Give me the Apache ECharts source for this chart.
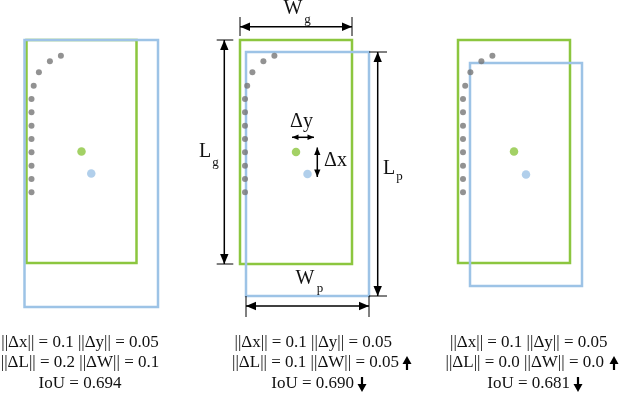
<!DOCTYPE html>
<html>
<head>
<meta charset="utf-8">
<script src="https://cdn.jsdelivr.net/npm/echarts@6/dist/echarts.min.js"></script>
<style>
  html, body { margin: 0; padding: 0; background: #fff; }
  #chart { width: 626px; height: 402px; }
</style>
</head>
<body>
<div id="chart"></div>
<script>
// boxes as [left, top, right, bottom] in figure units (y grows downward)
const greenBoxes = [[26.5, 40, 136.5, 263], [240, 40, 352, 264], [458, 40, 570, 263]];
const blueBoxes = [[24.5, 40, 158, 307], [246, 52, 369, 296], [470, 63, 582, 286]];

// contour points, x measured from the left edge of each green box
const contourDots = [
  [34.4, 55.7], [23.4, 61.3], [12.4, 72.3], [7.2, 85.7],
  [5, 99], [5, 112.3], [5, 125.7], [5, 139],
  [5, 152.3], [5, 165.7], [5, 179], [5, 192.3],
];

// dimension lines: [x1, y1, x2, y2, headLength]
const dimArrows = [
  [240, 26.7, 352, 26.7, 10],   // Wg
  [224.3, 40, 224.3, 264, 10],  // Lg
  [377.7, 52, 377.7, 296, 10],  // Lp
  [246, 306, 369, 306, 10],     // Wp
  [292, 137.3, 314, 137.3, 6.5],  // dy
  [317.3, 147.5, 317.3, 177, 7.5], // dx
];
const extLines = [
  [240, 17, 240, 36], [352, 17, 352, 36],
  [216.7, 40, 233.3, 40], [216.7, 264, 233.3, 264],
  [369, 52, 387, 52], [369, 296, 387, 296],
  [246, 296, 246, 317], [369, 296, 369, 317],
];
// trend arrows next to the captions: [x, yFrom, yTo]
const trendArrows = [
  [407, 370, 356], [362, 377, 392],
  [614, 370, 356], [578, 377, 392],
];

// labels: [text, x, y, fontSize, align]
const dimLabels = [
  ['W', 293, 9, 20, 'center'], ['g', 307.5, 20, 13, 'center'],
  ['L', 205, 152, 20, 'center'], ['g', 215.5, 163, 13, 'center'],
  ['L', 389, 168.5, 20, 'center'], ['p', 399.5, 177, 13, 'center'],
  ['W', 305, 279, 20, 'center'], ['p', 320, 289, 13, 'center'],
  ['Δy', 301.5, 122, 20, 'center'],
  ['Δx', 335.5, 161, 20, 'center'],
];
const captions = [
  ['||Δx|| = 0.1 ||Δy|| = 0.05', 80, 343, 17, 'center'],
  ['||ΔL|| = 0.2 ||ΔW|| = 0.1', 80, 363, 17, 'center'],
  ['IoU = 0.694', 80, 384, 17, 'center'],
  ['||Δx|| = 0.1 ||Δy|| = 0.05', 392, 343, 17, 'right'],
  ['||ΔL|| = 0.1 ||ΔW|| = 0.05', 399, 363, 17, 'right'],
  ['IoU = 0.690', 354, 384, 17, 'right'],
  ['||Δx|| = 0.1 ||Δy|| = 0.05', 607.5, 343, 17, 'right'],
  ['||ΔL|| = 0.0 ||ΔW|| = 0.0', 604, 363, 17, 'right'],
  ['IoU = 0.681', 570, 384, 17, 'right'],
];

const GREEN = '#8cc63f';
const BLUE = '#9dc3e6';
const GRAY = '#777777';
const FONT = '"Liberation Serif", "Times New Roman", serif';

const dotData = [];
greenBoxes.forEach((b) => {
  contourDots.forEach((d) => dotData.push([b[0] + d[0], d[1]]));
});
const center = (b) => [(b[0] + b[2]) / 2, (b[1] + b[3]) / 2];

function arrowHead(tip, from, len, half) {
  const dx = tip[0] - from[0];
  const dy = tip[1] - from[1];
  const d = Math.sqrt(dx * dx + dy * dy) || 1;
  const ux = dx / d, uy = dy / d;
  const bx = tip[0] - ux * len, by = tip[1] - uy * len;
  return {
    type: 'polygon',
    shape: { points: [tip, [bx - uy * half, by + ux * half], [bx + uy * half, by - ux * half]] },
    style: { fill: '#000' },
  };
}

function boxSeries(data, color) {
  return {
    type: 'custom',
    data,
    renderItem(params, api) {
      const p0 = api.coord([api.value(0), api.value(1)]);
      const p1 = api.coord([api.value(2), api.value(3)]);
      return {
        type: 'rect',
        shape: { x: p0[0], y: p0[1], width: p1[0] - p0[0], height: p1[1] - p0[1] },
        style: { fill: 'none', stroke: color, lineWidth: 2.5 },
      };
    },
  };
}

function textSeries(data) {
  return {
    type: 'custom',
    data,
    renderItem(params, api) {
      const item = data[params.dataIndex];
      const p = api.coord([item[1], item[2]]);
      return {
        type: 'text',
        x: p[0],
        y: p[1],
        style: {
          text: item[0],
          fontSize: item[3],
          fontFamily: FONT,
          fill: '#111',
          align: item[4],
          verticalAlign: 'middle',
        },
      };
    },
  };
}

const chart = echarts.init(document.getElementById('chart'));
chart.setOption({
  animation: false,
  grid: { left: 0, right: 0, top: 0, bottom: 0 },
  xAxis: { type: 'value', min: 0, max: 626, show: false },
  yAxis: { type: 'value', min: 0, max: 402, inverse: true, show: false },
  series: [
    boxSeries(greenBoxes, GREEN),
    boxSeries(blueBoxes, BLUE),
    {
      type: 'scatter',
      data: dotData,
      symbolSize: 6,
      itemStyle: { color: GRAY },
    },
    {
      type: 'scatter',
      data: greenBoxes.map(center),
      symbolSize: 8.5,
      itemStyle: { color: GREEN },
    },
    {
      type: 'scatter',
      data: blueBoxes.map(center),
      symbolSize: 8.5,
      itemStyle: { color: BLUE },
    },
    {
      type: 'custom',
      data: extLines,
      renderItem(params, api) {
        const a = api.coord([api.value(0), api.value(1)]);
        const b = api.coord([api.value(2), api.value(3)]);
        return {
          type: 'line',
          shape: { x1: a[0], y1: a[1], x2: b[0], y2: b[1] },
          style: { stroke: '#000', lineWidth: 1 },
        };
      },
    },
    {
      type: 'custom',
      data: dimArrows,
      renderItem(params, api) {
        const a = api.coord([api.value(0), api.value(1)]);
        const b = api.coord([api.value(2), api.value(3)]);
        const len = api.value(4);
        const half = len * 0.42;
        return {
          type: 'group',
          children: [
            {
              type: 'line',
              shape: { x1: a[0], y1: a[1], x2: b[0], y2: b[1] },
              style: { stroke: '#000', lineWidth: 1.5 },
            },
            arrowHead(b, a, len, half),
            arrowHead(a, b, len, half),
          ],
        };
      },
    },
    {
      type: 'custom',
      data: trendArrows,
      renderItem(params, api) {
        const a = api.coord([api.value(0), api.value(1)]);
        const b = api.coord([api.value(0), api.value(2)]);
        return {
          type: 'group',
          children: [
            {
              type: 'line',
              shape: { x1: a[0], y1: a[1], x2: b[0], y2: b[1] + (b[1] > a[1] ? -4 : 4) },
              style: { stroke: '#000', lineWidth: 2.2 },
            },
            arrowHead(b, a, 8, 4.5),
          ],
        };
      },
    },
    textSeries(dimLabels),
    textSeries(captions),
  ],
});
</script>
</body>
</html>
